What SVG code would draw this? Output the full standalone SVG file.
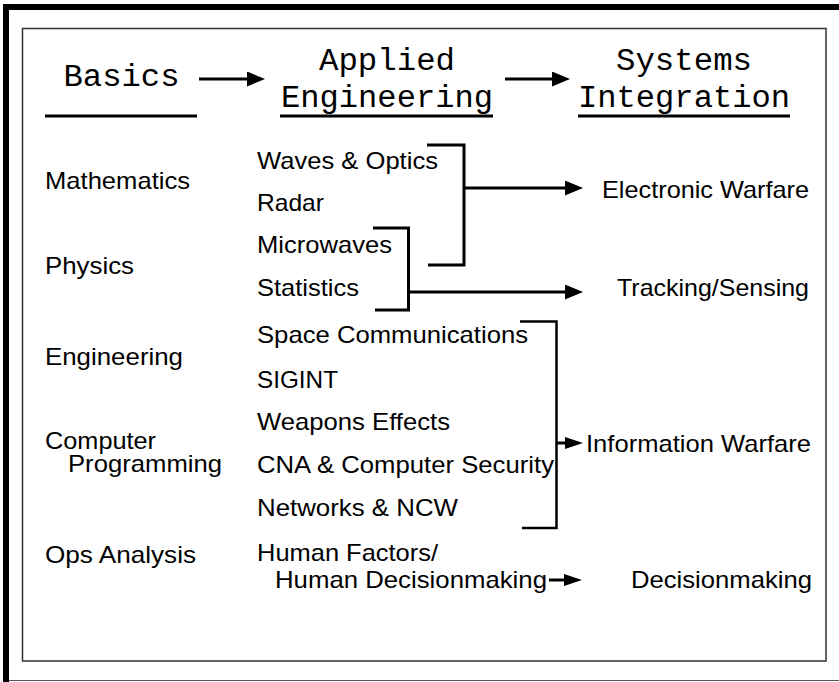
<svg xmlns="http://www.w3.org/2000/svg" width="839" height="682" viewBox="0 0 839 682">
<style>
.hd{font-family:"Liberation Mono","Courier New",monospace;font-size:31px;fill:#000;text-anchor:middle}
.t{font-family:"Liberation Sans",Arial,sans-serif;font-size:24px;fill:#000}
.r{text-anchor:end}
.ln{fill:none;stroke:#000;stroke-width:3}
.thin{stroke-width:2.5}
</style>
<defs>
<marker id="ah" viewBox="0 0 6 5" refX="4" refY="2.5" markerWidth="6" markerHeight="5" orient="auto" markerUnits="strokeWidth"><path d="M0,0 L6,2.5 L0,5 Z" fill="#000"/></marker>
<marker id="ahs" viewBox="0 0 6 4" refX="4" refY="2" markerWidth="6" markerHeight="4" orient="auto" markerUnits="strokeWidth"><path d="M0,0 L6,2 L0,4 Z" fill="#000"/></marker>
</defs>
<rect width="839" height="682" fill="#fff"/>
<g id="frame">
<rect x="3" y="4" width="836" height="6" fill="#000"/>
<rect x="3" y="4" width="6" height="678" fill="#000"/>
<line x1="9" y1="680.5" x2="839" y2="680.5" stroke="#555" stroke-width="1"/>
<rect x="22.5" y="28.5" width="803.5" height="632.5" fill="none" stroke="#333" stroke-width="1.5"/>
</g>
<g id="header-basics"><text class="hd" x="121.5" y="86" textLength="116" lengthAdjust="spacingAndGlyphs">Basics</text><line class="ln" x1="45" y1="116" x2="197" y2="116"/></g>
<g id="header-applied"><text class="hd" x="387" y="70" textLength="136" lengthAdjust="spacingAndGlyphs">Applied</text><text class="hd" x="387" y="107" textLength="212" lengthAdjust="spacingAndGlyphs">Engineering</text><line class="ln" x1="280" y1="116" x2="493" y2="116"/></g>
<g id="header-systems"><text class="hd" x="684" y="70" textLength="136" lengthAdjust="spacingAndGlyphs">Systems</text><text class="hd" x="684" y="107" textLength="212" lengthAdjust="spacingAndGlyphs">Integration</text><line class="ln" x1="578" y1="116" x2="790" y2="116"/></g>
<g id="basics">
<text class="t" x="45" y="189" textLength="145" lengthAdjust="spacingAndGlyphs">Mathematics</text>
<text class="t" x="45" y="273.5" textLength="89" lengthAdjust="spacingAndGlyphs">Physics</text>
<text class="t" x="45" y="365" textLength="138" lengthAdjust="spacingAndGlyphs">Engineering</text>
<text class="t" x="45" y="449" textLength="111" lengthAdjust="spacingAndGlyphs">Computer</text>
<text class="t" x="68" y="472" textLength="154" lengthAdjust="spacingAndGlyphs">Programming</text>
<text class="t" x="45" y="563" textLength="151" lengthAdjust="spacingAndGlyphs">Ops Analysis</text>
</g>
<g id="applied">
<text class="t" x="257" y="169" textLength="181" lengthAdjust="spacingAndGlyphs">Waves &amp; Optics</text>
<text class="t" x="257" y="211" textLength="67" lengthAdjust="spacingAndGlyphs">Radar</text>
<text class="t" x="257" y="253" textLength="135" lengthAdjust="spacingAndGlyphs">Microwaves</text>
<text class="t" x="257" y="296" textLength="102" lengthAdjust="spacingAndGlyphs">Statistics</text>
<text class="t" x="257" y="343" textLength="271" lengthAdjust="spacingAndGlyphs">Space Communications</text>
<text class="t" x="257" y="388" textLength="81" lengthAdjust="spacingAndGlyphs">SIGINT</text>
<text class="t" x="257" y="430" textLength="193" lengthAdjust="spacingAndGlyphs">Weapons Effects</text>
<text class="t" x="257" y="473" textLength="297" lengthAdjust="spacingAndGlyphs">CNA &amp; Computer Security</text>
<text class="t" x="257" y="516" textLength="201" lengthAdjust="spacingAndGlyphs">Networks &amp; NCW</text>
<text class="t" x="257" y="561" textLength="181" lengthAdjust="spacingAndGlyphs">Human Factors/</text>
<text class="t" x="275" y="588" textLength="272" lengthAdjust="spacingAndGlyphs">Human Decisionmaking</text>
</g>
<g id="systems">
<text class="t r" x="809" y="198" textLength="207" lengthAdjust="spacingAndGlyphs">Electronic Warfare</text>
<text class="t r" x="809" y="296" textLength="192" lengthAdjust="spacingAndGlyphs">Tracking/Sensing</text>
<text class="t r" x="811" y="451.5" textLength="225" lengthAdjust="spacingAndGlyphs">Information Warfare</text>
<text class="t r" x="812" y="588" textLength="181" lengthAdjust="spacingAndGlyphs">Decisionmaking</text>
</g>
<g id="connectors">
<line class="ln" x1="199" y1="79" x2="259" y2="79" marker-end="url(#ah)"/>
<line class="ln" x1="505" y1="79" x2="564" y2="79" marker-end="url(#ah)"/>
<path class="ln" d="M427,145 H464 V265 H428"/>
<line class="ln" x1="464" y1="188" x2="577" y2="188" marker-end="url(#ah)"/>
<path class="ln" d="M373,228 H408.5 V310 H375"/>
<line class="ln" x1="408.5" y1="292" x2="577" y2="292" marker-end="url(#ah)"/>
<path class="ln thin" d="M520,321.5 H556.5 V528 H522"/>
<line class="ln" x1="556.5" y1="443" x2="577" y2="443" marker-end="url(#ahs)"/>
<line class="ln" x1="549" y1="580" x2="576" y2="580" marker-end="url(#ahs)"/>
</g>
</svg>
